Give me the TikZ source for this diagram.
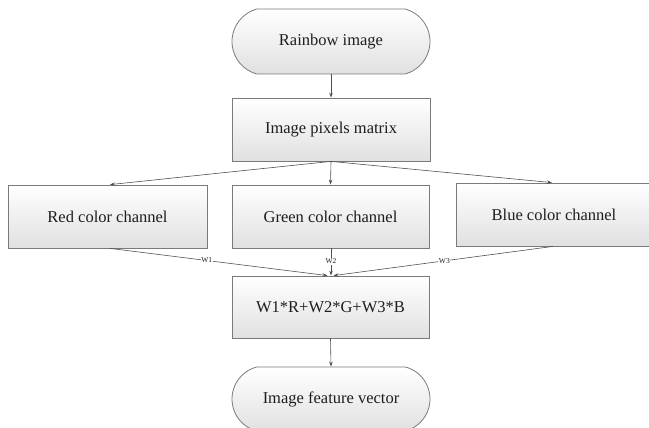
\documentclass[tikz,border=0pt]{standalone}
\usepackage{fontspec}
\setmainfont{Liberation Serif}
\usetikzlibrary{shapes.misc,arrows.meta}
\definecolor{edgegray}{HTML}{7A7A7A}
\definecolor{linegray}{HTML}{505050}
\definecolor{txtgray}{HTML}{1E1E1E}
\tikzset{
  boxbase/.style={draw=edgegray, line width=0.8pt, top color=white, bottom color=black!12,
    text=txtgray, font=\fontsize{16.5}{18}\selectfont, inner sep=0pt},
  procbox/.style={boxbase, rectangle, minimum width=198pt, minimum height=62pt},
  termbox/.style={boxbase, rounded rectangle, rounded rectangle arc length=150,
    minimum width=198pt, minimum height=65pt},
  conn/.style={draw=linegray, line width=0.6pt, -{Stealth[length=5pt,width=3.5pt]}},
  wlabel/.style={fill=white, inner sep=0.6pt, font=\fontsize{7.5}{8}\selectfont, text=txtgray}
}
\begin{document}
\begin{tikzpicture}[x=1pt,y=-1pt]
\useasboundingbox (0,0) rectangle (649,428);
\node[termbox] (rain) at (331,41.5) {Rainbow image};
\node[procbox, minimum height=63pt] (pix) at (331,129.5) {Image pixels matrix};
\node[procbox, minimum width=199pt, minimum height=63pt] (red) at (107.5,216.5) {Red color channel};
\node[procbox, minimum width=197pt, minimum height=63pt] (green) at (330.5,216.5) {Green color channel};
\node[procbox, minimum width=196pt, minimum height=63pt] (blue) at (554,214.5) {Blue color channel};
\node[procbox, minimum width=197pt] (wsum) at (330.5,307) {W1*R+W2*G+W3*B};
\node[termbox, minimum height=64pt] (feat) at (331,399) {Image feature vector};

\draw[conn] (rain.south) -- (pix.north);
\draw[conn] (pix.south) -- ([xshift=2.5pt]red.north);
\draw[conn] (pix.south) -- (green.north);
\draw[conn] (pix.south) -- ([xshift=-2pt]blue.north);
\draw[conn] ([xshift=2.5pt]red.south) -- node[wlabel, pos=0.445] {W1} ([xshift=-3pt]wsum.north);
\draw[conn] ([xshift=0.5pt]green.south) -- node[wlabel, pos=0.48] {W2} ([xshift=0.5pt]wsum.north);
\draw[conn] ([xshift=-1pt]blue.south) -- node[wlabel, pos=0.495] {W3} ([xshift=3pt]wsum.north);
\draw[conn] (wsum.south) -- (feat.north);
\end{tikzpicture}
\end{document}
